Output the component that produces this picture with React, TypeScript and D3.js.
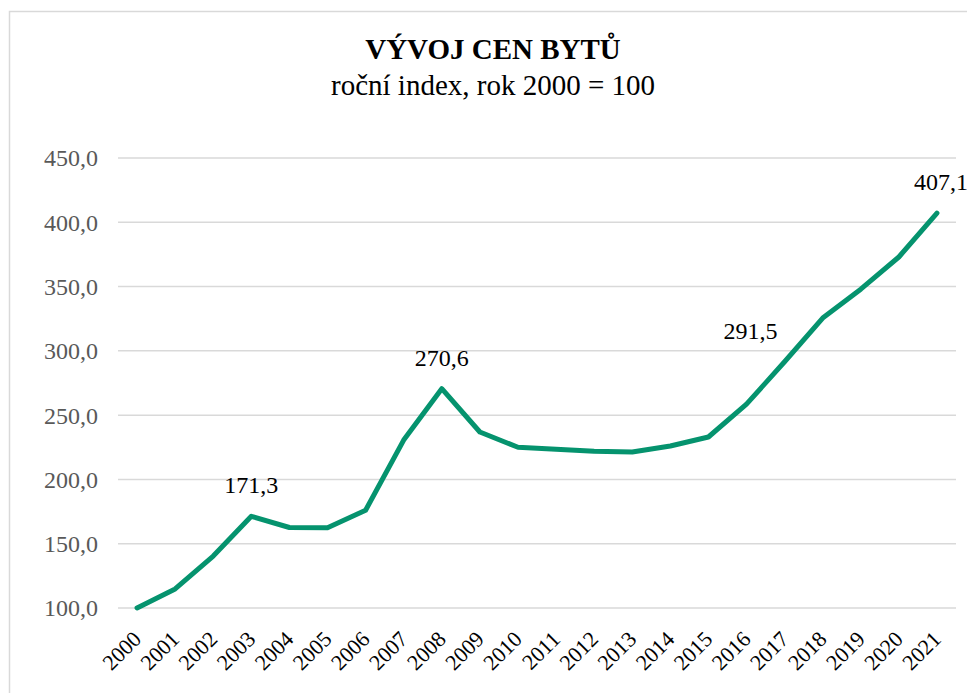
import React from 'react';
import * as d3 from 'd3';

const years = [
  '2000', '2001', '2002', '2003', '2004', '2005', '2006', '2007', '2008', '2009', '2010',
  '2011', '2012', '2013', '2014', '2015', '2016', '2017', '2018', '2019', '2020', '2021',
];
const index = [
  100.0, 114.8, 140.4, 171.3, 162.6, 162.4, 176.0, 230.6, 270.6, 236.9, 225.0,
  223.4, 222.0, 221.3, 226.0, 233.0, 258.6, 291.5, 325.5, 348.0, 373.0, 407.1,
];
const yTicks = [100, 150, 200, 250, 300, 350, 400, 450];
// which points get a value label, with a horizontal nudge
const labelled = [
  { year: '2003', dx: 0 },
  { year: '2008', dx: 0 },
  { year: '2017', dx: -34 },
  { year: '2021', dx: 4 },
];

const W = 967;
const H = 693;
const FONT = "'Liberation Serif', 'Times New Roman', serif";

const margin = { top: 158, right: 11, bottom: 85, left: 118 };
const width = W - margin.left - margin.right;
const height = H - margin.top - margin.bottom;

const fmt = (v: number) => d3.format('.1f')(v).replace('.', ',');

const App: React.FC = () => {
  const x = d3.scaleBand().domain(years).range([0, width]);
  const y = d3.scaleLinear().domain([100, 450]).range([height, 0]);
  const cx = (d: string) => (x(d) as number) + x.bandwidth() / 2;

  const line = d3
    .line<number>()
    .x((_, i) => cx(years[i]))
    .y((d) => y(d));

  return (
    <svg
      width={W}
      height={H}
      style={{ position: 'absolute', left: 0, top: 0, display: 'block', fontFamily: FONT }}
    >
      <rect x={9.5} y={11.5} width={W + 20} height={H + 20} fill="#fff" stroke="#d9d9d9" strokeWidth={1.5} />
      <text x={493} y={59} textAnchor="middle" fontWeight="bold" fontSize={29} fill="#000" style={{ fontFamily: FONT }}>
        VÝVOJ CEN BYTŮ
      </text>
      <text x={493} y={95} textAnchor="middle" fontSize={29} fill="#000" style={{ fontFamily: FONT }}>
        roční index, rok 2000 = 100
      </text>

      <g transform={`translate(${margin.left},${margin.top})`}>
        {yTicks.map((t) => (
          <line key={`g${t}`} x1={0} x2={width} y1={y(t)} y2={y(t)} stroke="#d9d9d9" strokeWidth={1.5} />
        ))}
        {yTicks.map((t) => (
          <text
            key={`t${t}`}
            x={-20}
            y={y(t)}
            dy="0.35em"
            textAnchor="end"
            fontSize={24}
            fill="#595959"
            style={{ fontFamily: FONT }}
          >
            {fmt(t)}
          </text>
        ))}
        {years.map((d) => (
          <text
            key={d}
            transform={`translate(${cx(d)},${height + 27}) rotate(-45)`}
            dy="0.35em"
            textAnchor="end"
            fontSize={22}
            fill="#000"
            style={{ fontFamily: FONT }}
          >
            {d}
          </text>
        ))}
        <path
          d={line(index) as string}
          fill="none"
          stroke="#05936e"
          strokeWidth={5}
          strokeLinejoin="round"
          strokeLinecap="round"
        />
        {labelled.map((l) => {
          const v = index[years.indexOf(l.year)];
          return (
            <text
              key={`l${l.year}`}
              x={cx(l.year) + l.dx}
              y={y(v) - 23}
              textAnchor="middle"
              fontSize={24}
              fill="#000"
              style={{ fontFamily: FONT }}
            >
              {fmt(v)}
            </text>
          );
        })}
      </g>
    </svg>
  );
};

export default App;
